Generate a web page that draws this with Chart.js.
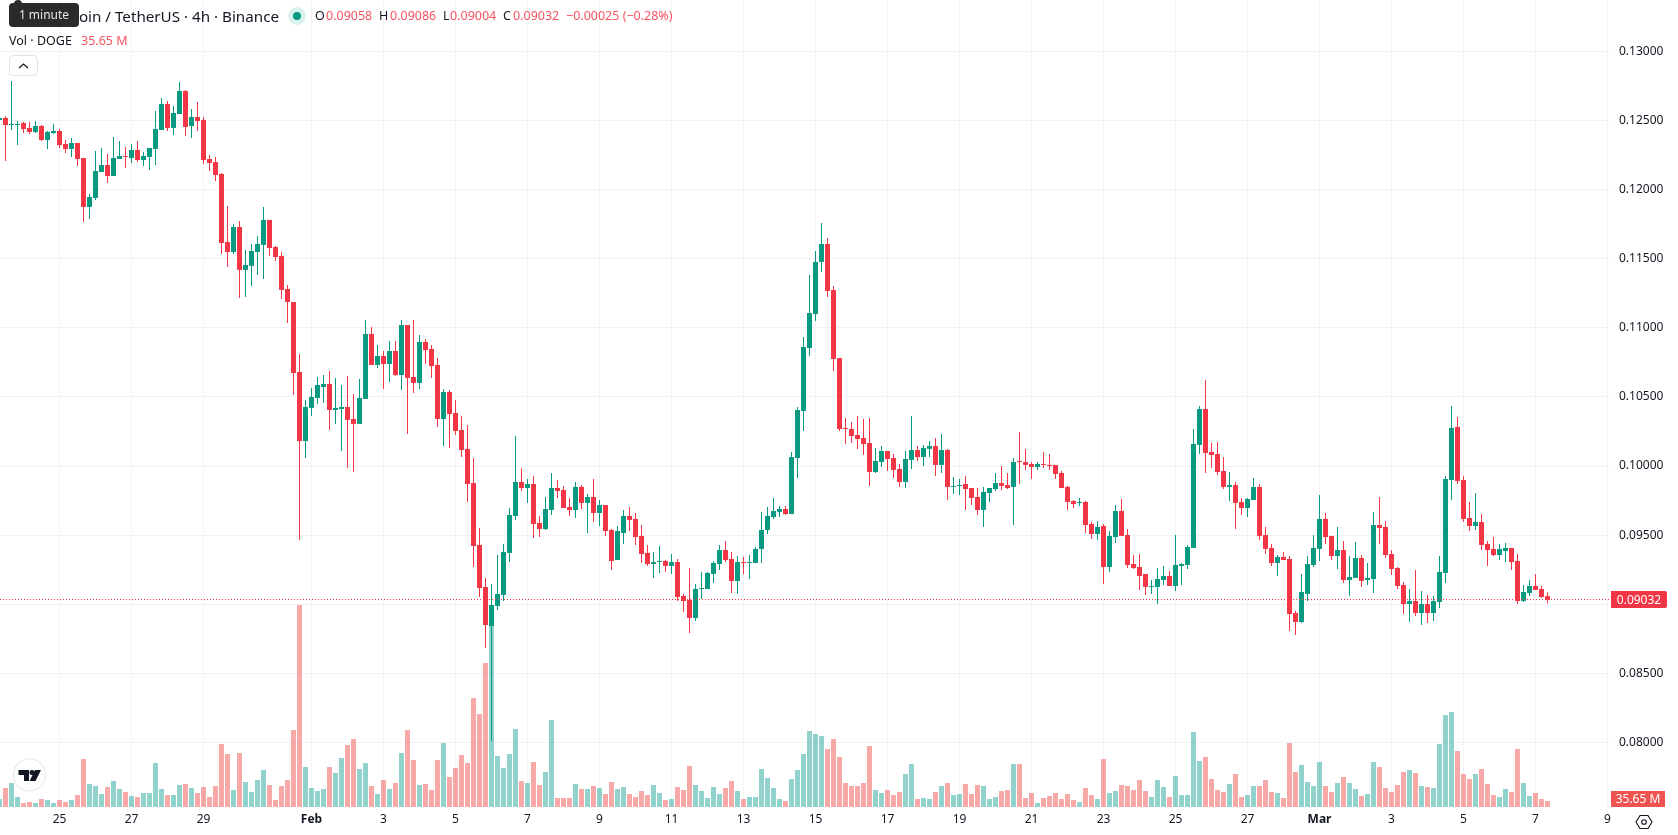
<!DOCTYPE html>
<html>
<head>
<meta charset="utf-8">
<title>DOGE / USDT 4h</title>
<script src="https://cdn.jsdelivr.net/npm/chart.js@4/dist/chart.umd.min.js"></script>
<style>
  html, body { margin: 0; padding: 0; background: #fff; }
  body { width: 1678px; height: 835px; overflow: hidden; position: relative; font-family: "Noto Sans", sans-serif; color: #131722; }
  canvas { position: absolute; left: 0; top: 0; }
  .abs { position: absolute; white-space: nowrap; }
  .red { color: #f7525f; }
  .ohlc { top: 7px; font-size: 12.5px; line-height: 18px; }
  .tag { color: #fff; font-size: 12px; text-align: center; }
</style>
</head>
<body>
<canvas id="chart" width="1678" height="835"></canvas>

<div class="abs" style="left:0;width:279px;top:4px;text-align:right;font-size:15.2px;line-height:24px">Dogecoin / TetherUS · 4h · Binance</div>
<div class="abs" style="left:9px;top:3px;width:70px;height:24px;background:#2a2a2a;border-radius:4px;color:#e6e6e6;font-size:12px;line-height:24px;text-align:center">1 minute</div>
<div class="abs" style="left:14px;top:0;width:8px;height:4px;background:#2a2a2a;border-radius:4px 4px 0 0"></div>
<div class="abs" style="left:288px;top:7px;width:18px;height:18px;border-radius:50%;background:#d9f2ee"></div>
<div class="abs" style="left:293px;top:12px;width:8px;height:8px;border-radius:50%;background:#089981"></div>
<div class="abs ohlc" style="left:315px">O</div><div class="abs ohlc red" style="left:326px">0.09058</div>
<div class="abs ohlc" style="left:379px">H</div><div class="abs ohlc red" style="left:390px">0.09086</div>
<div class="abs ohlc" style="left:443px">L</div><div class="abs ohlc red" style="left:450px">0.09004</div>
<div class="abs ohlc" style="left:503px">C</div><div class="abs ohlc red" style="left:513px">0.09032</div>
<div class="abs ohlc red" style="left:566px">−0.00025 (−0.28%)</div>
<div class="abs" style="left:9px;top:31px;font-size:12.5px;line-height:19px">Vol · DOGE</div>
<div class="abs red" style="left:81px;top:31px;font-size:12.5px;line-height:19px">35.65 M</div>
<svg class="abs" style="left:9px;top:55px" width="29" height="22">
  <rect x="0.5" y="0.5" width="28" height="20" rx="4" fill="#fff" stroke="#e0e3eb"/>
  <path d="M10 13 L14.5 9 L19 13" fill="none" stroke="#131722" stroke-width="1.3"/>
</svg>
<svg class="abs" style="left:12px;top:757px" width="36" height="36">
  <circle cx="17.5" cy="18" r="16" fill="#fff" stroke="#e8e9ec" stroke-width="1.2"/>
  <path d="M6.5 13 H17 V24 H12 V18 H6.5 Z M23 13 H29 L23.5 24 H17.5 Z" fill="#131722"/>
  <circle cx="20" cy="15.5" r="2.5" fill="#131722"/>
</svg>
<div class="abs tag" style="left:1611px;top:591px;width:56px;height:17px;line-height:17px;background:#f23645;border-radius:0 2px 2px 0">0.09032</div>
<div class="abs tag" style="left:1611px;top:791px;width:54px;height:16px;line-height:16px;background:#ef5350">35.65 M</div>
<svg class="abs" style="left:1635px;top:813px" width="18" height="18">
  <path d="M5 2.5 H13 L17 9 L13 15.5 H5 L1 9 Z" fill="none" stroke="#131722" stroke-width="1.1"/>
  <circle cx="9" cy="9" r="2.3" fill="none" stroke="#131722" stroke-width="1.1"/>
</svg>

<script>
// 4h DOGE/USDT bars, first bar is Jan 23 08:00, one bar per 6px
const opens = [
  0.12506,0.12520,0.12469,0.12469,0.12484,0.12448,0.12419,0.12462,0.12361,0.12411,
  0.12426,0.12332,0.12296,0.12339,0.12230,0.11876,0.11941,0.12129,0.12180,0.12100,
  0.12223,0.12245,0.12230,0.12288,0.12216,0.12238,0.12296,0.12433,0.12621,0.12448,
  0.12549,0.12715,0.12462,0.12527,0.12506,0.12223,0.12201,0.12115,0.11622,0.11550,
  0.11731,0.11420,0.11449,0.11550,0.11601,0.11782,0.11586,0.11521,0.11282,0.11188,
  0.10681,0.10181,0.10421,0.10493,0.10572,0.10594,0.10406,0.10413,0.10428,0.10341,
  0.10305,0.10486,0.10956,0.10732,0.10797,0.10739,0.10833,0.10659,0.11021,0.10645,
  0.10602,0.10898,0.10848,0.10732,0.10341,0.10536,0.10384,0.10261,0.10124,0.09877,
  0.09429,0.09125,0.08842,0.08987,0.09067,0.09371,0.09639,0.09885,0.09841,0.09870,
  0.09588,0.09544,0.09682,0.09841,0.09827,0.09704,0.09682,0.09849,0.09733,0.09776,
  0.09660,0.09718,0.09537,0.09320,0.09515,0.09639,0.09617,0.09494,0.09371,0.09291,
  0.09305,0.09313,0.09277,0.09305,0.09059,0.09030,0.08900,0.09110,0.09110,0.09219,
  0.09291,0.09392,0.09327,0.09168,0.09305,0.09298,0.09298,0.09400,0.09537,0.09631,
  0.09668,0.09689,0.09653,0.10058,0.10399,0.10855,0.11101,0.11478,0.11608,0.11275,
  0.10782,0.10276,0.10268,0.10225,0.10203,0.10167,0.09957,0.10029,0.10109,0.10058,
  0.09979,0.09885,0.10044,0.10116,0.10065,0.10124,0.10145,0.10008,0.10116,0.09849,
  0.09856,0.09870,0.09841,0.09776,0.09682,0.09805,0.09834,0.09877,0.09863,0.09849,
  0.10037,0.10029,0.10015,0.09993,0.10015,0.10008,0.10008,0.09950,0.09849,0.09747,
  0.09733,0.09740,0.09581,0.09508,0.09566,0.09269,0.09486,0.09675,0.09501,0.09291,
  0.09269,0.09219,0.09125,0.09125,0.09175,0.09204,0.09132,0.09277,0.09284,0.09407,
  0.10153,0.10413,0.10102,0.10087,0.09964,0.09849,0.09863,0.09740,0.09696,0.09754,
  0.09849,0.09501,0.09407,0.09298,0.09342,0.09327,0.08936,0.08871,0.09074,0.09284,
  0.09400,0.09617,0.09494,0.09349,0.09392,0.09175,0.09190,0.09334,0.09175,0.09182,
  0.09573,0.09559,0.09363,0.09262,0.09139,0.09001,0.09023,0.08936,0.09001,0.08936,
  0.09016,0.09226,0.09899,0.10283,0.09899,0.09624,0.09566,0.09595,0.09436,0.09400,
  0.09356,0.09385,0.09407,0.09313,0.09023,0.09081,0.09132,0.09110,0.09058
];
const highs = [
  0.12527,0.12534,0.12788,0.12498,0.12491,0.12491,0.12498,0.12469,0.12426,0.12477,
  0.12440,0.12361,0.12375,0.12339,0.12230,0.11970,0.12281,0.12303,0.12259,0.12382,
  0.12353,0.12310,0.12332,0.12353,0.12274,0.12303,0.12571,0.12665,0.12643,0.12607,
  0.12781,0.12723,0.12585,0.12636,0.12527,0.12252,0.12238,0.12122,0.11883,0.11753,
  0.11774,0.11564,0.11608,0.11666,0.11876,0.11782,0.11593,0.11550,0.11311,0.11188,
  0.10811,0.10478,0.10565,0.10645,0.10659,0.10688,0.10638,0.10587,0.10652,0.10522,
  0.10630,0.11058,0.11007,0.10877,0.10833,0.10905,0.10905,0.11058,0.11021,0.11058,
  0.10949,0.10920,0.10877,0.10782,0.10558,0.10551,0.10478,0.10363,0.10297,0.10058,
  0.09552,0.09190,0.09146,0.09356,0.09436,0.09696,0.10218,0.09986,0.09906,0.09928,
  0.09639,0.09776,0.09950,0.09899,0.09856,0.09769,0.09885,0.09863,0.09798,0.09906,
  0.09754,0.09718,0.09544,0.09566,0.09682,0.09704,0.09660,0.09573,0.09429,0.09378,
  0.09421,0.09320,0.09363,0.09327,0.09074,0.09262,0.09146,0.09233,0.09233,0.09313,
  0.09429,0.09457,0.09378,0.09349,0.09342,0.09356,0.09414,0.09668,0.09704,0.09769,
  0.09711,0.09711,0.10102,0.10428,0.10934,0.11383,0.11557,0.11760,0.11651,0.11304,
  0.10782,0.10348,0.10319,0.10363,0.10341,0.10348,0.10131,0.10145,0.10109,0.10087,
  0.10015,0.10109,0.10363,0.10145,0.10153,0.10181,0.10203,0.10232,0.10124,0.09921,
  0.09906,0.09928,0.09841,0.09841,0.09849,0.09841,0.09950,0.10000,0.09950,0.10058,
  0.10247,0.10124,0.10029,0.10029,0.10102,0.10087,0.10008,0.09964,0.09856,0.09754,
  0.09769,0.09747,0.09595,0.09602,0.09581,0.09530,0.09718,0.09762,0.09544,0.09356,
  0.09363,0.09219,0.09175,0.09262,0.09277,0.09240,0.09501,0.09298,0.09429,0.10268,
  0.10435,0.10623,0.10167,0.10174,0.10065,0.09957,0.09885,0.09769,0.09769,0.09914,
  0.09870,0.09559,0.09436,0.09356,0.09378,0.09349,0.08951,0.09219,0.09349,0.09501,
  0.09791,0.09660,0.09494,0.09559,0.09457,0.09349,0.09450,0.09356,0.09298,0.09668,
  0.09776,0.09602,0.09392,0.09269,0.09160,0.09110,0.09248,0.09096,0.09067,0.09059,
  0.09349,0.09928,0.10435,0.10355,0.09928,0.09740,0.09805,0.09653,0.09457,0.09486,
  0.09436,0.09443,0.09407,0.09363,0.09139,0.09175,0.09219,0.09132,0.09086
];
const lows = [
  0.12491,0.12209,0.12433,0.12324,0.12411,0.12404,0.12411,0.12353,0.12296,0.12404,
  0.12303,0.12267,0.12238,0.12173,0.11767,0.11789,0.11926,0.12129,0.12049,0.12100,
  0.12223,0.12158,0.12194,0.12201,0.12173,0.12144,0.12180,0.12433,0.12426,0.12397,
  0.12549,0.12390,0.12375,0.12426,0.12187,0.12136,0.12064,0.11535,0.11441,0.11535,
  0.11217,0.11224,0.11304,0.11383,0.11354,0.11521,0.11485,0.11210,0.11036,0.10514,
  0.09465,0.10058,0.10363,0.10449,0.10456,0.10261,0.10305,0.10109,0.09986,0.09957,
  0.10305,0.10486,0.10732,0.10710,0.10558,0.10609,0.10652,0.10551,0.10232,0.10529,
  0.10558,0.10739,0.10638,0.10283,0.10145,0.10131,0.10225,0.10065,0.09740,0.09269,
  0.09052,0.08683,0.08010,0.08958,0.09023,0.09305,0.09610,0.09820,0.09733,0.09479,
  0.09486,0.09537,0.09646,0.09769,0.09696,0.09639,0.09624,0.09689,0.09515,0.09595,
  0.09566,0.09494,0.09248,0.09320,0.09436,0.09530,0.09429,0.09298,0.09277,0.09190,
  0.09226,0.09233,0.09219,0.09023,0.08943,0.08791,0.08878,0.09038,0.09110,0.09154,
  0.09248,0.09305,0.09081,0.09074,0.09219,0.09182,0.09298,0.09298,0.09508,0.09617,
  0.09631,0.09646,0.09653,0.09914,0.10254,0.10797,0.11050,0.11405,0.11224,0.10688,
  0.10254,0.10160,0.10167,0.10124,0.10080,0.09856,0.09950,0.09993,0.09964,0.09914,
  0.09849,0.09841,0.09979,0.10037,0.10000,0.10065,0.09928,0.09950,0.09754,0.09798,
  0.09791,0.09682,0.09718,0.09646,0.09559,0.09740,0.09820,0.09827,0.09834,0.09573,
  0.09870,0.09972,0.09906,0.09972,0.09986,0.09972,0.09906,0.09841,0.09682,0.09696,
  0.09711,0.09515,0.09472,0.09465,0.09146,0.09233,0.09443,0.09494,0.09262,0.09255,
  0.09103,0.09067,0.09074,0.09001,0.09139,0.09132,0.09096,0.09139,0.09255,0.09407,
  0.10087,0.09950,0.09986,0.09935,0.09834,0.09747,0.09544,0.09646,0.09631,0.09754,
  0.09465,0.09363,0.09277,0.09204,0.09320,0.08806,0.08777,0.08864,0.09023,0.09269,
  0.09313,0.09436,0.09320,0.09255,0.09154,0.09059,0.09190,0.09125,0.09139,0.09081,
  0.09436,0.09334,0.09211,0.09110,0.08929,0.08871,0.08914,0.08849,0.08864,0.08878,
  0.08972,0.09154,0.09754,0.09870,0.09595,0.09530,0.09537,0.09392,0.09277,0.09349,
  0.09320,0.09305,0.09248,0.09001,0.09016,0.09059,0.09103,0.09045,0.09004
];
const closes = [
  0.12520,0.12469,0.12477,0.12477,0.12440,0.12419,0.12462,0.12361,0.12419,0.12426,
  0.12324,0.12296,0.12339,0.12223,0.11876,0.11948,0.12136,0.12180,0.12100,0.12230,
  0.12245,0.12238,0.12288,0.12216,0.12245,0.12303,0.12440,0.12621,0.12448,0.12556,
  0.12715,0.12455,0.12527,0.12498,0.12216,0.12194,0.12107,0.11615,0.11550,0.11731,
  0.11420,0.11456,0.11557,0.11608,0.11782,0.11579,0.11514,0.11275,0.11188,0.10674,
  0.10181,0.10428,0.10500,0.10587,0.10594,0.10406,0.10421,0.10428,0.10334,0.10305,
  0.10493,0.10956,0.10732,0.10797,0.10739,0.10833,0.10659,0.11021,0.10638,0.10602,
  0.10898,0.10840,0.10724,0.10341,0.10536,0.10377,0.10254,0.10116,0.09870,0.09421,
  0.09117,0.08849,0.08994,0.09074,0.09378,0.09646,0.09885,0.09841,0.09870,0.09581,
  0.09544,0.09689,0.09841,0.09820,0.09696,0.09682,0.09849,0.09733,0.09776,0.09660,
  0.09718,0.09530,0.09313,0.09530,0.09639,0.09610,0.09486,0.09363,0.09291,0.09305,
  0.09313,0.09277,0.09305,0.09052,0.09023,0.08900,0.09110,0.09117,0.09226,0.09298,
  0.09392,0.09320,0.09168,0.09305,0.09298,0.09305,0.09400,0.09537,0.09639,0.09675,
  0.09689,0.09653,0.10065,0.10406,0.10862,0.11108,0.11478,0.11608,0.11268,0.10775,
  0.10268,0.10268,0.10218,0.10196,0.10160,0.09957,0.10037,0.10109,0.10051,0.09972,
  0.09885,0.10051,0.10116,0.10065,0.10131,0.10145,0.10008,0.10116,0.09849,0.09856,
  0.09863,0.09834,0.09769,0.09682,0.09812,0.09841,0.09877,0.09856,0.09841,0.10029,
  0.10029,0.10008,0.09993,0.10015,0.10008,0.10000,0.09943,0.09841,0.09740,0.09725,
  0.09740,0.09573,0.09508,0.09559,0.09269,0.09494,0.09675,0.09494,0.09284,0.09262,
  0.09204,0.09125,0.09132,0.09182,0.09204,0.09132,0.09284,0.09291,0.09414,0.10160,
  0.10413,0.10095,0.10080,0.09957,0.09849,0.09863,0.09733,0.09696,0.09762,0.09849,
  0.09494,0.09400,0.09298,0.09342,0.09320,0.08929,0.08871,0.09088,0.09291,0.09407,
  0.09617,0.09486,0.09349,0.09392,0.09175,0.09197,0.09334,0.09168,0.09190,0.09573,
  0.09552,0.09356,0.09255,0.09132,0.09001,0.09023,0.08936,0.09001,0.08936,0.09023,
  0.09233,0.09906,0.10276,0.09892,0.09617,0.09566,0.09595,0.09429,0.09392,0.09356,
  0.09400,0.09407,0.09305,0.09023,0.09088,0.09132,0.09103,0.09052,0.09032
];
// volume per bar, millions of DOGE
const volumes = [
  48,114,144,60,24,30,24,48,42,24,
  42,30,42,72,288,138,126,78,120,156,
  108,90,66,60,84,84,264,108,72,72,
  132,138,114,84,120,60,126,378,318,102,
  324,150,90,162,222,132,42,126,162,462,
  1212,240,114,96,108,240,204,294,372,408,
  228,264,126,78,162,108,144,324,462,282,
  132,138,102,282,384,180,234,312,264,654,
  558,864,1096,306,234,318,468,156,144,270,
  132,210,522,54,54,54,138,108,108,126,
  114,78,150,108,120,78,60,96,72,132,
  84,42,48,120,102,246,132,96,54,120,
  78,114,156,96,48,60,60,228,174,114,
  48,36,168,222,318,456,438,426,348,408,
  300,144,126,126,144,366,102,84,102,72,
  90,198,258,48,54,48,90,126,144,72,
  78,138,78,132,126,48,60,96,102,258,
  258,54,84,24,54,66,84,48,78,42,
  30,114,72,48,288,84,96,132,126,102,
  162,96,60,162,120,60,186,72,72,450,
  276,300,168,102,90,138,198,60,72,126,
  126,162,90,84,54,384,210,252,150,126,
  270,126,90,144,180,144,108,66,78,270,
  240,114,90,132,210,222,204,126,120,114,
  378,552,570,336,198,168,198,228,138,72,
  60,108,90,348,144,66,84,48,35.65
];

// bar index of each time axis label
const tickBars = [10,22,34,52,64,76,88,100,112,124,136,148,160,172,184,196,208,220,232,244,256,268];
const tickLabels = ['25','27','29','Feb','3','5','7','9','11','13','15','17','19','21','23','25','27','Mar','3','5','7','9'];
const monthLabels = ['Feb','Mar'];
const priceTicks = [0.08,0.085,0.09,0.095,0.10,0.105,0.11,0.115,0.12,0.125,0.13];

const lastClose = closes[closes.length - 1];
const GREEN = '#089981', RED = '#f23645';
const VOL_GREEN = 'rgba(38,166,154,0.5)', VOL_RED = 'rgba(239,83,80,0.5)';
const GRID = '#f1f2f4';
const FONT = '"Noto Sans", sans-serif';

const isUp = i => closes[i] >= opens[i];
const candleColors = closes.map((c, i) => isUp(i) ? GREEN : RED);
const volumeColors = closes.map((c, i) => isUp(i) ? VOL_GREEN : VOL_RED);

function barDataset(data, colors, thickness, axis) {
  return {
    type: 'bar',
    data: data,
    backgroundColor: colors,
    barThickness: thickness,
    grouped: false,
    borderWidth: 0,
    inflateAmount: 0,
    yAxisID: axis
  };
}

// chart.js reserves room for half a label at each axis end, we want none
function dropPadding(axis) {
  axis.paddingTop = axis.paddingBottom = axis.paddingLeft = axis.paddingRight = 0;
}

// dotted line at the last close, snapped to a pixel row so it stays sharp
const lastPriceLine = {
  id: 'lastPriceLine',
  afterDatasetsDraw(chart) {
    const { ctx, chartArea, scales } = chart;
    const y = Math.floor(scales.price.getPixelForValue(lastClose)) + 0.5;
    ctx.save();
    ctx.strokeStyle = RED;
    ctx.lineWidth = 1;
    ctx.setLineDash([1, 2]);
    ctx.beginPath();
    ctx.moveTo(chartArea.left, y);
    ctx.lineTo(chartArea.right, y);
    ctx.stroke();
    ctx.restore();
  }
};

new Chart(document.getElementById('chart'), {
  type: 'bar',
  data: {
    datasets: [
      barDataset(opens.map((o, i) => ({ x: i, y: [o, closes[i]] })), candleColors, 5, 'price'),
      barDataset(lows.map((l, i) => ({ x: i, y: [l, highs[i]] })), candleColors, 1, 'price'),
      barDataset(volumes.map((v, i) => ({ x: i, y: v })), volumeColors, 5, 'volume')
    ]
  },
  plugins: [lastPriceLine],
  options: {
    responsive: false,
    animation: false,
    events: [],
    layout: { padding: 0 },
    plugins: { legend: { display: false }, tooltip: { enabled: false } },
    scales: {
      x: {
        type: 'linear',
        offset: false,
        min: 0.5 / 6,
        max: 0.5 / 6 + 1610 / 6,
        afterBuildTicks: axis => { axis.ticks = tickBars.map(value => ({ value })); },
        afterFit: axis => { axis.height = 28; dropPadding(axis); },
        grid: { color: GRID, offset: false, drawTicks: false },
        border: { display: false },
        ticks: {
          autoSkip: false,
          maxRotation: 0,
          padding: 5,
          color: '#131722',
          font: ctx => ({
            family: FONT,
            size: 12,
            weight: monthLabels.includes(ctx.tick && ctx.tick.label) ? 'bold' : 'normal'
          }),
          callback: value => tickLabels[tickBars.indexOf(value)]
        }
      },
      price: {
        type: 'linear',
        position: 'right',
        min: 0.075315,
        max: 0.133743,
        afterBuildTicks: axis => { axis.ticks = priceTicks.map(value => ({ value })); },
        afterFit: axis => { axis.width = 68; dropPadding(axis); },
        grid: { color: GRID, drawTicks: false },
        border: { display: false },
        ticks: {
          padding: 9,
          color: '#131722',
          font: { family: FONT, size: 12 },
          // the tick next to the last price sits under its tag
          callback: value => Math.abs(value - lastClose) < 0.001 ? '' : value.toFixed(5)
        }
      },
      volume: {
        type: 'linear',
        display: false,
        min: 0,
        max: 4842
      }
    }
  }
});
</script>
</body>
</html>
